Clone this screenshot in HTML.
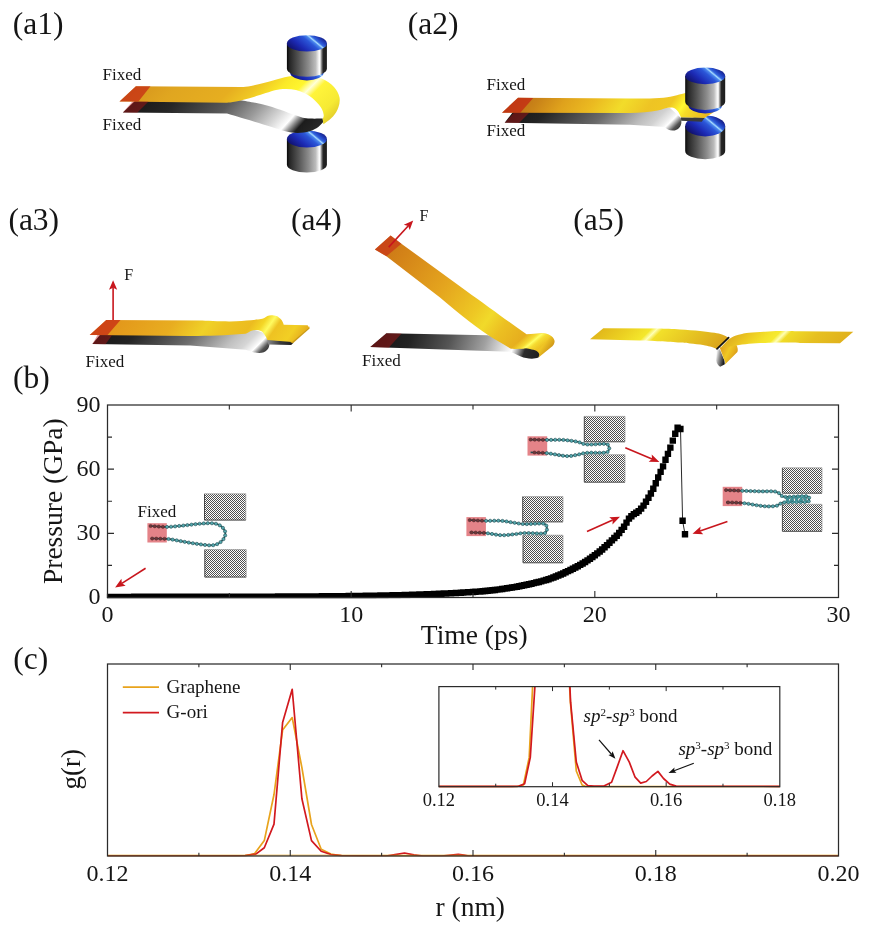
<!DOCTYPE html>
<html lang="en"><head><meta charset="utf-8"><title>Figure</title>
<style>
html,body{margin:0;padding:0;background:#ffffff;}
svg{display:block;}
text{font-family:"Liberation Serif","DejaVu Serif",serif;fill:#151515;}
</style></head><body>
<svg width="870" height="932" viewBox="0 0 870 932">
<defs>
<linearGradient id="cylBody" x1="0" y1="0" x2="1" y2="0"><stop offset="0" stop-color="#080808"/><stop offset="0.07" stop-color="#262626"/><stop offset="0.30" stop-color="#565656"/><stop offset="0.55" stop-color="#8e8e8e"/><stop offset="0.72" stop-color="#bcbcbc"/><stop offset="0.795" stop-color="#f2f2f2"/><stop offset="0.825" stop-color="#ffffff"/><stop offset="0.865" stop-color="#8a8a8a"/><stop offset="0.905" stop-color="#262626"/><stop offset="1" stop-color="#1c1c1c"/></linearGradient>
<linearGradient id="a1btb" gradientUnits="userSpaceOnUse" x1="286.9" y1="142" x2="306.11" y2="118.89"><stop offset="0.0000" stop-color="#10106a"/><stop offset="0.3107" stop-color="#1c2ab4"/><stop offset="0.5872" stop-color="#2b56d8"/><stop offset="0.6830" stop-color="#4a86ec"/><stop offset="0.7255" stop-color="#a8dcff"/><stop offset="0.7787" stop-color="#3468e0"/><stop offset="0.8637" stop-color="#2244c4"/><stop offset="1.0000" stop-color="#141c84"/></linearGradient>
<linearGradient id="a1gray" gradientUnits="userSpaceOnUse" x1="123" y1="107" x2="243.06" y2="215.05"><stop offset="0.0000" stop-color="#141414"/><stop offset="0.2163" stop-color="#262626"/><stop offset="0.4735" stop-color="#5a5a5a"/><stop offset="0.6282" stop-color="#9a9a9a"/><stop offset="0.7497" stop-color="#d8d8d8"/><stop offset="0.8214" stop-color="#ffffff"/><stop offset="0.8573" stop-color="#8a8a8a"/><stop offset="0.8932" stop-color="#1c1c1c"/><stop offset="1.0000" stop-color="#2a2a2a"/></linearGradient>
<linearGradient id="a1yel" gradientUnits="userSpaceOnUse" x1="120" y1="94" x2="239" y2="213"><stop offset="0.0000" stop-color="#d4921c"/><stop offset="0.2101" stop-color="#e0a620"/><stop offset="0.4454" stop-color="#e6ae20"/><stop offset="0.5504" stop-color="#efc724"/><stop offset="0.6513" stop-color="#fbea28"/><stop offset="0.7269" stop-color="#fff62e"/><stop offset="0.7731" stop-color="#ffffd8"/><stop offset="0.8109" stop-color="#fff43a"/><stop offset="0.9286" stop-color="#f6ea34"/><stop offset="1.0000" stop-color="#e2cc2a"/></linearGradient>
<linearGradient id="a1tbb" gradientUnits="userSpaceOnUse" x1="286.9" y1="75.6" x2="306.11" y2="52.49"><stop offset="0.0000" stop-color="#10106a"/><stop offset="0.3107" stop-color="#1c2ab4"/><stop offset="0.5872" stop-color="#2b56d8"/><stop offset="0.6830" stop-color="#4a86ec"/><stop offset="0.7255" stop-color="#a8dcff"/><stop offset="0.7787" stop-color="#3468e0"/><stop offset="0.8637" stop-color="#2244c4"/><stop offset="1.0000" stop-color="#141c84"/></linearGradient>
<linearGradient id="a1ttb" gradientUnits="userSpaceOnUse" x1="286.9" y1="46.4" x2="306.11" y2="23.29"><stop offset="0.0000" stop-color="#10106a"/><stop offset="0.3107" stop-color="#1c2ab4"/><stop offset="0.5872" stop-color="#2b56d8"/><stop offset="0.6830" stop-color="#4a86ec"/><stop offset="0.7255" stop-color="#a8dcff"/><stop offset="0.7787" stop-color="#3468e0"/><stop offset="0.8637" stop-color="#2244c4"/><stop offset="1.0000" stop-color="#141c84"/></linearGradient>
<linearGradient id="a2btb" gradientUnits="userSpaceOnUse" x1="685.2" y1="129" x2="704.41" y2="105.89"><stop offset="0.0000" stop-color="#10106a"/><stop offset="0.3107" stop-color="#1c2ab4"/><stop offset="0.5872" stop-color="#2b56d8"/><stop offset="0.6830" stop-color="#4a86ec"/><stop offset="0.7255" stop-color="#a8dcff"/><stop offset="0.7787" stop-color="#3468e0"/><stop offset="0.8637" stop-color="#2244c4"/><stop offset="1.0000" stop-color="#141c84"/></linearGradient>
<linearGradient id="a2gray" gradientUnits="userSpaceOnUse" x1="505" y1="118" x2="597.5" y2="210.5"><stop offset="0.0000" stop-color="#141414"/><stop offset="0.1892" stop-color="#242424"/><stop offset="0.5135" stop-color="#6a6a6a"/><stop offset="0.7405" stop-color="#bcbcbc"/><stop offset="0.8270" stop-color="#d2d2d2"/><stop offset="0.8865" stop-color="#ececec"/><stop offset="0.9162" stop-color="#ffffff"/><stop offset="0.9405" stop-color="#b0b0b0"/><stop offset="0.9676" stop-color="#555"/><stop offset="1.0000" stop-color="#333"/></linearGradient>
<linearGradient id="a2yel" gradientUnits="userSpaceOnUse" x1="503" y1="105" x2="646.56" y2="205.49"><stop offset="0.0000" stop-color="#b86a14"/><stop offset="0.1496" stop-color="#c98318"/><stop offset="0.2758" stop-color="#dfa21c"/><stop offset="0.4161" stop-color="#ebba21"/><stop offset="0.5563" stop-color="#f2dc2a"/><stop offset="0.6872" stop-color="#eec424"/><stop offset="0.7803" stop-color="#f0c822"/><stop offset="0.8429" stop-color="#fff830"/><stop offset="0.8775" stop-color="#f6dc28"/><stop offset="1.0000" stop-color="#e8b41e"/></linearGradient>
<linearGradient id="a2tbb" gradientUnits="userSpaceOnUse" x1="685.2" y1="108.6" x2="704.41" y2="85.49"><stop offset="0.0000" stop-color="#10106a"/><stop offset="0.3107" stop-color="#1c2ab4"/><stop offset="0.5872" stop-color="#2b56d8"/><stop offset="0.6830" stop-color="#4a86ec"/><stop offset="0.7255" stop-color="#a8dcff"/><stop offset="0.7787" stop-color="#3468e0"/><stop offset="0.8637" stop-color="#2244c4"/><stop offset="1.0000" stop-color="#141c84"/></linearGradient>
<linearGradient id="a2ttb" gradientUnits="userSpaceOnUse" x1="685.2" y1="78.9" x2="704.41" y2="55.79"><stop offset="0.0000" stop-color="#10106a"/><stop offset="0.3107" stop-color="#1c2ab4"/><stop offset="0.5872" stop-color="#2b56d8"/><stop offset="0.6830" stop-color="#4a86ec"/><stop offset="0.7255" stop-color="#a8dcff"/><stop offset="0.7787" stop-color="#3468e0"/><stop offset="0.8637" stop-color="#2244c4"/><stop offset="1.0000" stop-color="#141c84"/></linearGradient>
<linearGradient id="a3gray" gradientUnits="userSpaceOnUse" x1="92" y1="340" x2="185" y2="433"><stop offset="0.0000" stop-color="#141414"/><stop offset="0.2043" stop-color="#242424"/><stop offset="0.5323" stop-color="#6e6e6e"/><stop offset="0.7581" stop-color="#c0c0c0"/><stop offset="0.8495" stop-color="#d6d6d6"/><stop offset="0.8925" stop-color="#eeeeee"/><stop offset="0.9194" stop-color="#ffffff"/><stop offset="0.9409" stop-color="#b0b0b0"/><stop offset="0.9677" stop-color="#555"/><stop offset="1.0000" stop-color="#333"/></linearGradient>
<linearGradient id="a3edge" x1="0" y1="0" x2="1" y2="0"><stop offset="0" stop-color="#8a8a8a"/><stop offset="0.5" stop-color="#3a3a3a"/><stop offset="1" stop-color="#1c1c1c"/></linearGradient>
<linearGradient id="a3yel" gradientUnits="userSpaceOnUse" x1="90" y1="328" x2="235.91" y2="430.13"><stop offset="0.0000" stop-color="#e0901a"/><stop offset="0.1610" stop-color="#e49c1c"/><stop offset="0.3680" stop-color="#e8ad20"/><stop offset="0.5290" stop-color="#f0d228"/><stop offset="0.6072" stop-color="#eec424"/><stop offset="0.7295" stop-color="#ecbc20"/><stop offset="0.7810" stop-color="#f4d626"/><stop offset="0.8174" stop-color="#fffb60"/><stop offset="0.8537" stop-color="#eec222"/><stop offset="0.9420" stop-color="#f2cf24"/><stop offset="1.0000" stop-color="#e6b01e"/></linearGradient>
<linearGradient id="a4gray" gradientUnits="userSpaceOnUse" x1="372" y1="340" x2="527.81" y2="394.53"><stop offset="0.0000" stop-color="#121212"/><stop offset="0.2173" stop-color="#222"/><stop offset="0.4480" stop-color="#555"/><stop offset="0.6521" stop-color="#a0a0a0"/><stop offset="0.7630" stop-color="#e0e0e0"/><stop offset="0.8205" stop-color="#ffffff"/><stop offset="0.8588" stop-color="#9a9a9a"/><stop offset="0.8951" stop-color="#2c2c2c"/><stop offset="1.0000" stop-color="#1c1c1c"/></linearGradient>
<linearGradient id="a4yel" gradientUnits="userSpaceOnUse" x1="376" y1="243" x2="541.41" y2="362.1"><stop offset="0.0000" stop-color="#c87216"/><stop offset="0.1500" stop-color="#d48418"/><stop offset="0.3896" stop-color="#e4a41e"/><stop offset="0.5920" stop-color="#eec824"/><stop offset="0.6644" stop-color="#f1da2a"/><stop offset="0.7431" stop-color="#ecc022"/><stop offset="0.8514" stop-color="#e6ae1e"/><stop offset="0.9129" stop-color="#ecbe22"/><stop offset="0.9595" stop-color="#eec424"/><stop offset="1.0000" stop-color="#cf9618"/></linearGradient>
<linearGradient id="a4hl" gradientUnits="userSpaceOnUse" x1="531.4" y1="330.7" x2="542.97" y2="344.62"><stop offset="0.0000" stop-color="#fff83a" stop-opacity="0"/><stop offset="0.3451" stop-color="#fff640" stop-opacity="0.55"/><stop offset="0.5099" stop-color="#ffff66" stop-opacity="1"/><stop offset="0.6980" stop-color="#fff640" stop-opacity="0.5"/><stop offset="1.0000" stop-color="#fff83a" stop-opacity="0"/></linearGradient>
<linearGradient id="a5L" gradientUnits="userSpaceOnUse" x1="592" y1="334" x2="664.5" y2="406.5"><stop offset="0.0000" stop-color="#e0b41a"/><stop offset="0.2276" stop-color="#ecd222"/><stop offset="0.3724" stop-color="#f4e82c"/><stop offset="0.4138" stop-color="#ffffb4"/><stop offset="0.4552" stop-color="#f2e02a"/><stop offset="0.6966" stop-color="#e6c422"/><stop offset="0.8828" stop-color="#deae1e"/><stop offset="1.0000" stop-color="#d8a01c"/></linearGradient>
<linearGradient id="a5g" gradientUnits="userSpaceOnUse" x1="716" y1="356" x2="724.85" y2="357.77"><stop offset="0.0000" stop-color="#f4f4f4"/><stop offset="0.4239" stop-color="#8a8a8a"/><stop offset="1.0000" stop-color="#161616"/></linearGradient>
<linearGradient id="a5f" gradientUnits="userSpaceOnUse" x1="719" y1="352" x2="734.2" y2="359.6"><stop offset="0.0000" stop-color="#e0a01c"/><stop offset="0.4737" stop-color="#efc824"/><stop offset="0.7368" stop-color="#e8b41e"/><stop offset="1.0000" stop-color="#d89a1a"/></linearGradient>
<linearGradient id="a5R" gradientUnits="userSpaceOnUse" x1="722" y1="344" x2="782.5" y2="404.5"><stop offset="0.0000" stop-color="#deac1e"/><stop offset="0.1488" stop-color="#ecc822"/><stop offset="0.2975" stop-color="#f4e22a"/><stop offset="0.3802" stop-color="#f6ea30"/><stop offset="0.4256" stop-color="#ffffb4"/><stop offset="0.4711" stop-color="#f0dc28"/><stop offset="0.7107" stop-color="#e6c020"/><stop offset="1.0000" stop-color="#e0b01c"/></linearGradient>
<clipPath id="bclip"><rect x="106.9" y="405" width="732.2" height="193.2"/></clipPath>
<pattern id="chk" width="2" height="2" patternUnits="userSpaceOnUse"><rect width="2" height="2" fill="#ffffff"/><rect width="1" height="1" fill="#505050"/><rect x="1" y="1" width="1" height="1" fill="#505050"/></pattern>
<filter id="soft" x="-5%" y="-5%" width="110%" height="110%"><feGaussianBlur stdDeviation="0.42"/></filter>
<clipPath id="cclip"><rect x="107.5" y="664" width="731" height="192.3"/></clipPath>
</defs>
<path d="M286.9,139 L286.9,164.4 A20,8.2 0 0 0 326.9,164.4 L326.9,139 Z" fill="url(#cylBody)"/><ellipse cx="306.9" cy="139" rx="20" ry="8.6" fill="url(#a1btb)"/>
<path d="M139,97 L235,99.5 C235.95,99.62 236.02,99.37 240.7,100.2 C245.38,101.03 256.5,102.92 263.1,104.5 C269.7,106.08 275.13,107.98 280.3,109.7 C285.47,111.42 289.78,113.37 294.1,114.8 C298.42,116.23 301.45,117.67 306.2,118.3 C310.95,118.93 319.87,118.55 322.6,118.6 L323.4,121.7 C322.55,122.57 320.58,125.32 318.3,126.9 C316.02,128.48 313.15,130.2 309.7,131.2 C306.25,132.2 301.63,132.9 297.6,132.9 C293.57,132.9 289.82,132.2 285.5,131.2 C281.18,130.2 276.87,128.48 271.7,126.9 C266.53,125.32 260.25,123.42 254.5,121.7 C248.75,119.98 241.78,117.95 237.2,116.6 C232.62,115.25 228.7,114.1 227,113.6 L122.9,112.6 Z" fill="url(#a1gray)"/>
<path d="M135.9,86.2 L241,87 C242.67,87 245.67,87.13 251,86 C256.33,84.87 266.75,82 273,80.4 C279.25,78.8 283.17,77.3 288.5,76.4 C293.83,75.5 299.47,74.63 305,75 C310.53,75.37 316.87,76.6 321.7,78.6 C326.53,80.6 331.05,83.93 334,87 C336.95,90.07 338.65,93.67 339.4,97 C340.15,100.33 339.57,103.75 338.5,107 C337.43,110.25 335.52,113.62 333,116.5 C330.48,119.38 325,123 323.4,124.3 L322.6,119.1 C322.78,118.42 323.92,116.87 323.7,115 C323.48,113.13 322.85,110.42 321.3,107.9 C319.75,105.38 317.08,102.28 314.4,99.9 C311.72,97.52 308.27,95.23 305.2,93.6 C302.13,91.97 299.2,90.88 296,90.1 C292.8,89.32 289.33,88.9 286,88.9 C282.67,88.9 281.25,88.8 276,90.1 C270.75,91.4 261.17,94.78 254.5,96.7 C247.83,98.62 240.58,100.58 236,101.6 C231.42,102.62 228.5,102.6 227,102.8 L119.5,101.4 Z" fill="url(#a1yel)"/>
<polygon points="135.9,86.2 150.5,86.3 138.4,101.4 119.5,101.4" fill="#c41c14" fill-opacity="0.66"/>
<polygon points="132.4,101.4 148.5,101.4 137.2,112.7 122.9,112.6" fill="#c01818" fill-opacity="0.42"/>
<ellipse cx="306.9" cy="72.2" rx="16.8" ry="8.2" fill="url(#a1tbb)"/><path d="M286.9,43.4 L286.9,68.6 A20,8.2 0 0 0 326.9,68.6 L326.9,43.4 Z" fill="url(#cylBody)"/><ellipse cx="306.9" cy="43.4" rx="20" ry="8.2" fill="url(#a1ttb)"/>
<text x="102.5" y="80" font-size="17" text-anchor="start">Fixed</text>
<text x="102.5" y="130.2" font-size="17" text-anchor="start">Fixed</text>
<text x="12.8" y="33.8" font-size="31.5" text-anchor="start">(a1)</text>
<path d="M685.2,126 L685.2,151 A20,8.3 0 0 0 725.2,151 L725.2,126 Z" fill="url(#cylBody)"/><ellipse cx="705.2" cy="126" rx="20" ry="10.4" fill="url(#a2btb)"/>
<path d="M516,108 L670,108 L681,118 L681.4,122 C681.4,126 678.5,130.6 672.8,130.6 C669,130.6 666.5,128.6 664.5,126.9 L630,124.8 L504.7,122.7 Z" fill="url(#a2gray)"/>
<path d="M518,97.8 L630,98.6 C633.33,98.57 643.8,98.63 650,98.4 C656.2,98.17 662.72,97.73 667.2,97.2 C671.68,96.67 673.9,95.88 676.9,95.2 C679.9,94.52 683.82,93.45 685.2,93.1 L700,99 L722,104 L715.5,111 L704.5,118 L681,117.4 C679.5,114 678.5,111.5 676.9,110.2 C675,108 673.5,107.3 671.4,107.5 C669,107.6 667,108 664.5,108.6 C662,109.5 660,110.1 657.6,110.5 C650,111.8 640,112.9 630,113.1 L502,112.7 Z" fill="url(#a2yel)"/>
<polygon points="681,117.4 704.5,118 701.7,121.8 681.2,120.8" fill="#3a3a3a"/>
<polygon points="518,97.8 533.2,97.9 520.3,112.8 502,112.7" fill="#c41c14" fill-opacity="0.66"/>
<polygon points="513.9,112.8 529,112.9 519,122.9 504.7,122.7" fill="#c01818" fill-opacity="0.42"/>
<ellipse cx="705.2" cy="105.2" rx="16.8" ry="8.3" fill="url(#a2tbb)"/><path d="M685.2,75.9 L685.2,101.6 A20,8.3 0 0 0 725.2,101.6 L725.2,75.9 Z" fill="url(#cylBody)"/><ellipse cx="705.2" cy="75.9" rx="20" ry="8.3" fill="url(#a2ttb)"/>
<text x="486.5" y="90.1" font-size="17" text-anchor="start">Fixed</text>
<text x="486.5" y="136.3" font-size="17" text-anchor="start">Fixed</text>
<text x="407.8" y="33.8" font-size="31.5" text-anchor="start">(a2)</text>
<path d="M104,330 L255,330 L264,333 L269,341.4 C270.5,346 268,353 259.3,353 C254,353 250,351 245.5,349.7 L190.3,345.6 L92.4,344.1 Z" fill="url(#a3gray)"/>
<polygon points="267.2,339.5 291.5,341.2 293.5,342.8 291.2,345 268.3,344.4" fill="url(#a3edge)"/>
<polygon points="292.1,340 309.3,326.5 309.6,328.6 293,343.2 290.5,342.6" fill="#c99a18"/>
<path d="M106.2,319.9 L200,320.6 C205,320.75 221.55,321.57 230,321.5 C238.45,321.43 245.53,320.6 250.7,320.2 C255.87,319.8 258.73,319.47 261,319.1 C263.27,318.73 263.23,318.52 264.3,318 C265.37,317.48 266.22,316.47 267.4,316 C268.58,315.53 269.87,315.2 271.4,315.2 C272.93,315.2 275.05,315.35 276.6,316 C278.15,316.65 279.67,318.07 280.7,319.1 C281.73,320.13 282.28,321.25 282.8,322.2 C283.32,323.15 283.63,324.37 283.8,324.8 L307.6,325.3 L309.1,327.6 L292.1,342.0 L267.4,339.9 C266.4,337.6 265.4,336 264.1,334.1 C263,332.4 262.2,331.4 261,331 C259.2,330.1 257.6,329.9 255.9,330 C254,330.1 252.4,330.4 250.7,331 C249,332 247.5,333.2 245.5,333.7 C225,335.4 210,335.9 190.3,335.9 L89.7,335 Z" fill="url(#a3yel)"/>
<polygon points="106.2,319.9 120.5,320 107.5,335.1 89.7,335" fill="#c41c14" fill-opacity="0.66"/>
<polygon points="97.5,335.1 112,335.2 105.5,344.3 92.4,344.1" fill="#c01818" fill-opacity="0.42"/>
<line x1="113.1" y1="320" x2="113.1" y2="287.8" stroke="#c8161d" stroke-width="1.6"/><polygon points="113.1,280.3 117.2,289.8 113.1,287.8 109,289.8" fill="#c8161d"/>
<text x="124.2" y="280.2" font-size="16" text-anchor="start">F</text>
<text x="85.5" y="366.6" font-size="17" text-anchor="start">Fixed</text>
<text x="8.4" y="229.9" font-size="31.5" text-anchor="start">(a3)</text>
<path d="M386.4,333.3 L487.6,335.2 L515,341 L531,346 L542,351 L538.4,357.6 C534,359.6 526,358.8 520.9,356.6 C516,354.2 512.5,352.4 509.4,351.7 L370.3,347.1 Z" fill="url(#a4gray)"/>
<path d="M390.6,235.6 L401.4,243.7 L465,289.9 C490,308 508,321 526.6,334.3 C532,334 538,333.2 542.1,333.2 C546,333.3 549,334.2 551.6,336.2 C556.2,340 555.2,344.4 550.8,347.6 L538.2,357.8 C541,353.5 538,350.8 532,349.6 C528.5,348.6 526.5,348.2 524,348.4 C519,348.8 515,349 511,348.8 C503,344 495,339.5 488.7,335.6 C470,323 455,310 440,297.5 L386.4,256.3 L374.9,249.4 Z" fill="url(#a4yel)"/>
<path d="M390.6,235.6 L401.4,243.7 L465,289.9 C490,308 508,321 526.6,334.3 C532,334 538,333.2 542.1,333.2 C546,333.3 549,334.2 551.6,336.2 C556.2,340 555.2,344.4 550.8,347.6 L538.2,357.8 C541,353.5 538,350.8 532,349.6 C528.5,348.6 526.5,348.2 524,348.4 C519,348.8 515,349 511,348.8 C503,344 495,339.5 488.7,335.6 C470,323 455,310 440,297.5 L386.4,256.3 L374.9,249.4 Z" fill="url(#a4hl)"/>
<polygon points="390.6,235.6 401.4,243.7 386.4,256.3 374.9,249.4" fill="#c82a18" fill-opacity="0.62"/>
<polygon points="386.4,333.3 401.6,333.6 388.7,347.7 370.3,347.1" fill="#c01818" fill-opacity="0.42"/>
<line x1="388.7" y1="247.1" x2="408.13" y2="225.93" stroke="#c8161d" stroke-width="1.6"/><polygon points="413.2,220.4 409.72,230.1 408.13,225.93 403.83,224.7" fill="#c8161d"/>
<text x="419.6" y="221" font-size="16" text-anchor="start">F</text>
<text x="362" y="366.3" font-size="17" text-anchor="start">Fixed</text>
<text x="291" y="229.9" font-size="31.5" text-anchor="start">(a4)</text>
<path d="M603.3,328.3 L660,328.6 C663.33,328.73 673.33,329.02 680,329.4 C686.67,329.78 694.25,330.33 700,330.9 C705.75,331.47 710.83,332.18 714.5,332.8 C718.17,333.42 719.7,333.8 722,334.6 C724.3,335.4 727.25,337.1 728.3,337.6 L716.8,348.9 C715.67,348.52 712.3,347.27 710,346.6 C707.7,345.93 706.33,345.43 703,344.9 C699.67,344.37 693.83,343.78 690,343.4 C686.17,343.02 685,342.95 680,342.6 C675,342.25 666.67,341.65 660,341.3 C653.33,340.95 643.33,340.63 640,340.5 L590,339.3 Z" fill="url(#a5L)"/>
<path d="M716.8,348.9 L716.2,360.5 C716.6,363.5 718.2,365.6 720.2,366.8 L724.8,364.2 L724.4,360.5 L719.9,349.4 Z" fill="url(#a5g)"/>
<path d="M719.7,347.4 L736.3,344.4 C737.8,347.5 738.2,350 737.4,352 L724.9,364.4 C725.6,362.5 725.2,361.2 724.3,360 Z" fill="url(#a5f)"/>
<path d="M728.9,339.1 C729.95,338.53 733.02,336.57 735.2,335.7 C737.38,334.83 739.7,334.38 742,333.9 C744.3,333.42 745.17,333.17 749,332.8 C752.83,332.43 759.83,331.98 765,331.7 C770.17,331.42 774.17,331.17 780,331.1 C785.83,331.03 796.67,331.27 800,331.3 L853.3,331.7 L840,343.3 L800,343 C796.67,342.93 785.83,342.6 780,342.6 C774.17,342.6 770.17,342.82 765,343 C759.83,343.18 753.78,343.28 749,343.7 C744.22,344.12 739.8,344.98 736.3,345.5 C732.8,346.02 730.68,346.4 728,346.8 C725.32,347.2 721.5,347.72 720.2,347.9 Z" fill="url(#a5R)"/>
<path d="M728.6,337.6 L717,348.8" stroke="#111" stroke-width="1.7" stroke-linecap="round"/>
<text x="573.3" y="229.9" font-size="31.5" text-anchor="start">(a5)</text>
<path d="M680.5,429 L682.6,520.8 L685,534.2" fill="none" stroke="#111" stroke-width="0.9"/>
<path d="M104.3,593.64h6.4v6.4h-6.4zM106.74,593.63h6.4v6.4h-6.4zM109.17,593.63h6.4v6.4h-6.4zM111.61,593.63h6.4v6.4h-6.4zM114.05,593.63h6.4v6.4h-6.4zM116.48,593.63h6.4v6.4h-6.4zM118.92,593.63h6.4v6.4h-6.4zM121.36,593.63h6.4v6.4h-6.4zM123.79,593.63h6.4v6.4h-6.4zM126.23,593.63h6.4v6.4h-6.4zM128.67,593.63h6.4v6.4h-6.4zM131.1,593.62h6.4v6.4h-6.4zM133.54,593.62h6.4v6.4h-6.4zM135.98,593.62h6.4v6.4h-6.4zM138.41,593.62h6.4v6.4h-6.4zM140.85,593.62h6.4v6.4h-6.4zM143.29,593.62h6.4v6.4h-6.4zM145.72,593.62h6.4v6.4h-6.4zM148.16,593.61h6.4v6.4h-6.4zM150.6,593.61h6.4v6.4h-6.4zM153.03,593.61h6.4v6.4h-6.4zM155.47,593.61h6.4v6.4h-6.4zM157.91,593.61h6.4v6.4h-6.4zM160.34,593.61h6.4v6.4h-6.4zM162.78,593.6h6.4v6.4h-6.4zM165.22,593.6h6.4v6.4h-6.4zM167.65,593.6h6.4v6.4h-6.4zM170.09,593.6h6.4v6.4h-6.4zM172.53,593.6h6.4v6.4h-6.4zM174.96,593.59h6.4v6.4h-6.4zM177.4,593.59h6.4v6.4h-6.4zM179.84,593.59h6.4v6.4h-6.4zM182.27,593.59h6.4v6.4h-6.4zM184.71,593.58h6.4v6.4h-6.4zM187.15,593.58h6.4v6.4h-6.4zM189.58,593.58h6.4v6.4h-6.4zM192.02,593.57h6.4v6.4h-6.4zM194.46,593.57h6.4v6.4h-6.4zM196.89,593.57h6.4v6.4h-6.4zM199.33,593.57h6.4v6.4h-6.4zM201.77,593.56h6.4v6.4h-6.4zM204.2,593.56h6.4v6.4h-6.4zM206.64,593.55h6.4v6.4h-6.4zM209.08,593.55h6.4v6.4h-6.4zM211.51,593.55h6.4v6.4h-6.4zM213.95,593.54h6.4v6.4h-6.4zM216.39,593.54h6.4v6.4h-6.4zM218.82,593.53h6.4v6.4h-6.4zM221.26,593.53h6.4v6.4h-6.4zM223.7,593.52h6.4v6.4h-6.4zM226.13,593.52h6.4v6.4h-6.4zM228.57,593.51h6.4v6.4h-6.4zM231.01,593.51h6.4v6.4h-6.4zM233.44,593.5h6.4v6.4h-6.4zM235.88,593.5h6.4v6.4h-6.4zM238.32,593.49h6.4v6.4h-6.4zM240.75,593.49h6.4v6.4h-6.4zM243.19,593.48h6.4v6.4h-6.4zM245.63,593.47h6.4v6.4h-6.4zM248.06,593.47h6.4v6.4h-6.4zM250.5,593.46h6.4v6.4h-6.4zM252.94,593.45h6.4v6.4h-6.4zM255.37,593.45h6.4v6.4h-6.4zM257.81,593.44h6.4v6.4h-6.4zM260.25,593.43h6.4v6.4h-6.4zM262.68,593.42h6.4v6.4h-6.4zM265.12,593.41h6.4v6.4h-6.4zM267.56,593.4h6.4v6.4h-6.4zM269.99,593.39h6.4v6.4h-6.4zM272.43,593.38h6.4v6.4h-6.4zM274.87,593.37h6.4v6.4h-6.4zM277.3,593.36h6.4v6.4h-6.4zM279.74,593.35h6.4v6.4h-6.4zM282.18,593.34h6.4v6.4h-6.4zM284.61,593.33h6.4v6.4h-6.4zM287.05,593.32h6.4v6.4h-6.4zM289.49,593.31h6.4v6.4h-6.4zM291.92,593.29h6.4v6.4h-6.4zM294.36,593.28h6.4v6.4h-6.4zM296.8,593.27h6.4v6.4h-6.4zM299.23,593.25h6.4v6.4h-6.4zM301.67,593.24h6.4v6.4h-6.4zM304.11,593.22h6.4v6.4h-6.4zM306.54,593.2h6.4v6.4h-6.4zM308.98,593.19h6.4v6.4h-6.4zM311.42,593.17h6.4v6.4h-6.4zM313.85,593.15h6.4v6.4h-6.4zM316.29,593.13h6.4v6.4h-6.4zM318.73,593.12h6.4v6.4h-6.4zM321.16,593.1h6.4v6.4h-6.4zM323.6,593.07h6.4v6.4h-6.4zM326.04,593.05h6.4v6.4h-6.4zM328.47,593.03h6.4v6.4h-6.4zM330.91,593.01h6.4v6.4h-6.4zM333.35,592.98h6.4v6.4h-6.4zM335.78,592.96h6.4v6.4h-6.4zM338.22,592.93h6.4v6.4h-6.4zM340.66,592.91h6.4v6.4h-6.4zM343.09,592.88h6.4v6.4h-6.4zM345.53,592.85h6.4v6.4h-6.4zM347.97,592.82h6.4v6.4h-6.4zM350.4,592.79h6.4v6.4h-6.4zM352.84,592.76h6.4v6.4h-6.4zM355.28,592.73h6.4v6.4h-6.4zM357.71,592.69h6.4v6.4h-6.4zM360.15,592.66h6.4v6.4h-6.4zM362.59,592.62h6.4v6.4h-6.4zM365.02,592.58h6.4v6.4h-6.4zM367.46,592.54h6.4v6.4h-6.4zM369.9,592.5h6.4v6.4h-6.4zM372.33,592.46h6.4v6.4h-6.4zM374.77,592.42h6.4v6.4h-6.4zM377.21,592.37h6.4v6.4h-6.4zM379.64,592.32h6.4v6.4h-6.4zM382.08,592.27h6.4v6.4h-6.4zM384.52,592.22h6.4v6.4h-6.4zM386.95,592.17h6.4v6.4h-6.4zM389.39,592.12h6.4v6.4h-6.4zM391.83,592.06h6.4v6.4h-6.4zM394.26,592h6.4v6.4h-6.4zM396.7,591.94h6.4v6.4h-6.4zM399.14,591.88h6.4v6.4h-6.4zM401.57,591.81h6.4v6.4h-6.4zM404.01,591.74h6.4v6.4h-6.4zM406.45,591.67h6.4v6.4h-6.4zM408.88,591.6h6.4v6.4h-6.4zM411.32,591.53h6.4v6.4h-6.4zM413.76,591.45h6.4v6.4h-6.4zM416.19,591.37h6.4v6.4h-6.4zM418.63,591.28h6.4v6.4h-6.4zM421.07,591.2h6.4v6.4h-6.4zM423.5,591.1h6.4v6.4h-6.4zM425.94,591.01h6.4v6.4h-6.4zM428.38,590.91h6.4v6.4h-6.4zM430.81,590.81h6.4v6.4h-6.4zM433.25,590.71h6.4v6.4h-6.4zM435.69,590.6h6.4v6.4h-6.4zM438.12,590.49h6.4v6.4h-6.4zM440.56,590.37h6.4v6.4h-6.4zM443,590.26h6.4v6.4h-6.4zM445.43,590.15h6.4v6.4h-6.4zM447.87,590.03h6.4v6.4h-6.4zM450.31,589.9h6.4v6.4h-6.4zM452.74,589.77h6.4v6.4h-6.4zM455.18,589.64h6.4v6.4h-6.4zM457.62,589.51h6.4v6.4h-6.4zM460.05,589.36h6.4v6.4h-6.4zM462.49,589.22h6.4v6.4h-6.4zM464.93,589.07h6.4v6.4h-6.4zM467.36,588.91h6.4v6.4h-6.4zM469.8,588.75h6.4v6.4h-6.4zM472.24,588.58h6.4v6.4h-6.4zM474.67,588.41h6.4v6.4h-6.4zM477.11,588.23h6.4v6.4h-6.4zM479.55,588.04h6.4v6.4h-6.4zM481.98,587.84h6.4v6.4h-6.4zM484.42,587.58h6.4v6.4h-6.4zM486.86,587.32h6.4v6.4h-6.4zM489.29,587.04h6.4v6.4h-6.4zM491.73,586.75h6.4v6.4h-6.4zM494.17,586.44h6.4v6.4h-6.4zM496.6,586.13h6.4v6.4h-6.4zM499.04,585.79h6.4v6.4h-6.4zM501.48,585.45h6.4v6.4h-6.4zM503.91,585.09h6.4v6.4h-6.4zM506.35,584.71h6.4v6.4h-6.4zM508.79,584.32h6.4v6.4h-6.4zM511.22,583.91h6.4v6.4h-6.4zM513.66,583.48h6.4v6.4h-6.4zM516.1,583.03h6.4v6.4h-6.4zM518.53,582.57h6.4v6.4h-6.4zM520.97,582.08h6.4v6.4h-6.4zM523.41,581.57h6.4v6.4h-6.4zM525.84,581.06h6.4v6.4h-6.4zM528.28,580.52h6.4v6.4h-6.4zM530.72,579.96h6.4v6.4h-6.4zM533.15,579.37h6.4v6.4h-6.4zM535.59,578.76h6.4v6.4h-6.4zM538.03,578.13h6.4v6.4h-6.4zM540.46,577.47h6.4v6.4h-6.4zM542.9,576.77h6.4v6.4h-6.4zM545.34,575.99h6.4v6.4h-6.4zM547.77,575.14h6.4v6.4h-6.4zM550.21,574.25h6.4v6.4h-6.4zM552.65,573.32h6.4v6.4h-6.4zM555.08,572.34h6.4v6.4h-6.4zM557.52,571.32h6.4v6.4h-6.4zM559.96,570.24h6.4v6.4h-6.4zM562.39,569.12h6.4v6.4h-6.4zM564.83,567.97h6.4v6.4h-6.4zM567.27,566.82h6.4v6.4h-6.4zM569.7,565.62h6.4v6.4h-6.4zM572.14,564.37h6.4v6.4h-6.4zM574.58,563.06h6.4v6.4h-6.4zM577.01,561.69h6.4v6.4h-6.4zM579.45,560.26h6.4v6.4h-6.4zM581.89,558.77h6.4v6.4h-6.4zM584.32,557.21h6.4v6.4h-6.4zM586.76,555.58h6.4v6.4h-6.4zM589.2,553.87h6.4v6.4h-6.4zM591.63,552.09h6.4v6.4h-6.4zM594.07,550.22h6.4v6.4h-6.4zM596.51,548.28h6.4v6.4h-6.4zM598.94,546.24h6.4v6.4h-6.4zM601.38,544.11h6.4v6.4h-6.4zM603.82,541.89h6.4v6.4h-6.4zM606.25,539.57h6.4v6.4h-6.4zM608.69,537.21h6.4v6.4h-6.4zM611.13,534.86h6.4v6.4h-6.4zM613.56,532.5h6.4v6.4h-6.4zM616,529.75h6.4v6.4h-6.4zM618.44,526.67h6.4v6.4h-6.4zM620.87,523.59h6.4v6.4h-6.4zM623.31,519.45h6.4v6.4h-6.4zM625.75,515.45h6.4v6.4h-6.4zM628.18,513.02h6.4v6.4h-6.4zM630.62,510.95h6.4v6.4h-6.4zM633.06,509.51h6.4v6.4h-6.4zM635.49,507.91h6.4v6.4h-6.4zM637.93,505.47h6.4v6.4h-6.4zM640.37,502.45h6.4v6.4h-6.4zM642.8,498.54h6.4v6.4h-6.4zM645.24,494.56h6.4v6.4h-6.4zM647.68,490.31h6.4v6.4h-6.4zM650.11,485.49h6.4v6.4h-6.4zM652.55,479.99h6.4v6.4h-6.4zM654.99,474.35h6.4v6.4h-6.4zM657.42,468.7h6.4v6.4h-6.4zM659.86,463.14h6.4v6.4h-6.4zM662.3,456.59h6.4v6.4h-6.4zM664.73,450.64h6.4v6.4h-6.4zM667.17,444.4h6.4v6.4h-6.4zM669.61,437.46h6.4v6.4h-6.4zM672.04,430.55h6.4v6.4h-6.4zM674.4,424.4h6.4v6.4h-6.4zM677.2,425.8h6.4v6.4h-6.4zM679.4,517.6h6.4v6.4h-6.4zM681.8,531h6.4v6.4h-6.4z" fill="#000" clip-path="url(#bclip)"/>
<rect x="107.5" y="405" width="731" height="192.5" fill="none" stroke="#2b2b2b" stroke-width="1.25"/>
<path d="M229.33,597.5v-4.5 M229.33,405v4.5 M351.17,597.5v-6.5 M351.17,405v6.5 M473,597.5v-4.5 M473,405v4.5 M594.83,597.5v-6.5 M594.83,405v6.5 M716.67,597.5v-4.5 M716.67,405v4.5 M107.5,565.42h4.5 M838.5,565.42h-4.5 M107.5,533.33h6.5 M838.5,533.33h-6.5 M107.5,501.25h4.5 M838.5,501.25h-4.5 M107.5,469.17h6.5 M838.5,469.17h-6.5 M107.5,437.08h4.5 M838.5,437.08h-4.5 " stroke="#2b2b2b" stroke-width="1.1" fill="none"/>
<text x="107.5" y="621.6" font-size="24" text-anchor="middle">0</text>
<text x="351.17" y="621.6" font-size="24" text-anchor="middle">10</text>
<text x="594.83" y="621.6" font-size="24" text-anchor="middle">20</text>
<text x="838.5" y="621.6" font-size="24" text-anchor="middle">30</text>
<text x="100.6" y="604.4" font-size="24" text-anchor="end">0</text>
<text x="100.6" y="540.23" font-size="24" text-anchor="end">30</text>
<text x="100.6" y="476.07" font-size="24" text-anchor="end">60</text>
<text x="100.6" y="411.9" font-size="24" text-anchor="end">90</text>
<text x="474.2" y="643.8" font-size="27.5" text-anchor="middle">Time (ps)</text>
<text transform="translate(61.8,501.2) rotate(-90)" font-size="27.5" text-anchor="middle">Pressure (GPa)</text>
<text x="12.9" y="388.3" font-size="31.5" text-anchor="start">(b)</text>
<rect x="204.5" y="493.8" width="41.3" height="26.3" fill="url(#chk)" filter="url(#soft)"/><path d="M204.5,493.8 V520.1 H245.8" fill="none" stroke="#4a4a4a" stroke-width="1"/><path d="M204.5,493.8 H245.8 V520.1" fill="none" stroke="#9a9a9a" stroke-width="0.7"/><rect x="204.8" y="549.5" width="41.4" height="27.6" fill="url(#chk)" filter="url(#soft)"/><path d="M204.8,549.5 V577.1 H246.2" fill="none" stroke="#4a4a4a" stroke-width="1"/><path d="M204.8,549.5 H246.2 V577.1" fill="none" stroke="#9a9a9a" stroke-width="0.7"/><rect x="147.4" y="523.2" width="19.4" height="19.3" fill="#e48388"/><path d="M150.6,526 C153.33,526.15 161.63,526.97 167,526.9 C172.37,526.83 177.42,526.12 182.8,525.6 C188.18,525.08 194.72,524.2 199.3,523.8 C203.88,523.4 207.23,523.12 210.3,523.2 C213.37,523.28 215.55,523.47 217.7,524.3 C219.85,525.13 221.92,526.7 223.2,528.2 C224.48,529.7 225.33,531.52 225.4,533.3 C225.47,535.08 224.73,537.22 223.6,538.9 C222.47,540.58 220.5,542.33 218.6,543.4 C216.7,544.47 214.8,545.08 212.2,545.3 C209.6,545.52 206.98,545.17 203,544.7 C199.02,544.23 193.2,543.32 188.3,542.5 C183.4,541.68 177.13,540.4 173.6,539.8 C170.07,539.2 170.93,539.12 167.1,538.9 C163.27,538.68 153.35,538.57 150.6,538.5" fill="none" stroke="#234d52" stroke-width="1.6"/><g fill="#55aab0" stroke="#234d52" stroke-width="0.6"><circle cx="166.97" cy="526.9" r="1.6"/><circle cx="171.07" cy="526.73" r="1.6"/><circle cx="175.15" cy="526.39" r="1.6"/><circle cx="179.23" cy="525.97" r="1.6"/><circle cx="183.31" cy="525.55" r="1.6"/><circle cx="187.39" cy="525.11" r="1.6"/><circle cx="191.46" cy="524.64" r="1.6"/><circle cx="195.53" cy="524.18" r="1.6"/><circle cx="199.61" cy="523.77" r="1.6"/><circle cx="203.7" cy="523.43" r="1.6"/><circle cx="207.79" cy="523.21" r="1.6"/><circle cx="211.89" cy="523.26" r="1.6"/><circle cx="215.95" cy="523.76" r="1.6"/><circle cx="219.73" cy="525.31" r="1.6"/><circle cx="222.91" cy="527.88" r="1.6"/><circle cx="225.03" cy="531.35" r="1.6"/><circle cx="225.16" cy="535.39" r="1.6"/><circle cx="223.46" cy="539.1" r="1.6"/><circle cx="220.61" cy="542.03" r="1.6"/><circle cx="217.11" cy="544.14" r="1.6"/><circle cx="213.16" cy="545.2" r="1.6"/><circle cx="209.07" cy="545.32" r="1.6"/><circle cx="204.99" cy="544.93" r="1.6"/><circle cx="200.92" cy="544.44" r="1.6"/><circle cx="196.86" cy="543.86" r="1.6"/><circle cx="192.81" cy="543.23" r="1.6"/><circle cx="188.76" cy="542.58" r="1.6"/><circle cx="184.72" cy="541.87" r="1.6"/><circle cx="180.69" cy="541.12" r="1.6"/><circle cx="176.67" cy="540.35" r="1.6"/><circle cx="172.63" cy="539.63" r="1.6"/><circle cx="168.58" cy="539" r="1.6"/></g><g fill="#70373a" stroke="#4a2426" stroke-width="0.5"><circle cx="150.6" cy="526" r="1.6"/><circle cx="154.69" cy="526.3" r="1.6"/><circle cx="158.78" cy="526.59" r="1.6"/><circle cx="162.87" cy="526.82" r="1.6"/><circle cx="164.49" cy="538.79" r="1.6"/><circle cx="160.39" cy="538.68" r="1.6"/><circle cx="156.29" cy="538.6" r="1.6"/><circle cx="152.19" cy="538.53" r="1.6"/></g>
<text x="137.6" y="516.8" font-size="17" text-anchor="start">Fixed</text>
<line x1="145.6" y1="568.3" x2="121.86" y2="583.32" stroke="#c8161d" stroke-width="1.6"/><polygon points="115.1,587.6 121.41,578.87 121.86,583.32 125.69,585.63" fill="#c8161d"/>
<rect x="522.7" y="496.6" width="40.3" height="25.3" fill="url(#chk)" filter="url(#soft)"/><path d="M522.7,496.6 V521.9 H563" fill="none" stroke="#4a4a4a" stroke-width="1"/><path d="M522.7,496.6 H563 V521.9" fill="none" stroke="#9a9a9a" stroke-width="0.7"/><rect x="523" y="535.2" width="40" height="27.6" fill="url(#chk)" filter="url(#soft)"/><path d="M523,535.2 V562.8 H563" fill="none" stroke="#4a4a4a" stroke-width="1"/><path d="M523,535.2 H563 V562.8" fill="none" stroke="#9a9a9a" stroke-width="0.7"/><rect x="466.4" y="517.1" width="19.5" height="19" fill="#e48388"/><path d="M469.7,520.1 C472.3,520.22 480.08,520.68 485.3,520.8 C490.52,520.92 496.23,520.48 501,520.8 C505.77,521.12 509.92,522.15 513.9,522.7 C517.88,523.25 520,523.95 524.9,524.1 C529.8,524.25 539.68,523.17 543.3,523.6 C546.92,524.03 546.05,525.53 546.6,526.7 C547.15,527.87 547.15,529.48 546.6,530.6 C546.05,531.72 546.92,533 543.3,533.4 C539.68,533.8 529.8,532.85 524.9,533 C520,533.15 517.88,533.93 513.9,534.3 C509.92,534.67 505.77,535.42 501,535.2 C496.23,534.98 490.52,533.47 485.3,533 C480.08,532.53 472.3,532.5 469.7,532.4" fill="none" stroke="#234d52" stroke-width="1.6"/><g fill="#55aab0" stroke="#234d52" stroke-width="0.6"><circle cx="486.08" cy="520.81" r="1.6"/><circle cx="490.18" cy="520.79" r="1.6"/><circle cx="494.28" cy="520.71" r="1.6"/><circle cx="498.38" cy="520.7" r="1.6"/><circle cx="502.47" cy="520.93" r="1.6"/><circle cx="506.54" cy="521.46" r="1.6"/><circle cx="510.58" cy="522.16" r="1.6"/><circle cx="514.63" cy="522.81" r="1.6"/><circle cx="518.67" cy="523.49" r="1.6"/><circle cx="522.74" cy="523.98" r="1.6"/><circle cx="526.84" cy="524.1" r="1.6"/><circle cx="530.93" cy="523.94" r="1.6"/><circle cx="535.03" cy="523.72" r="1.6"/><circle cx="539.12" cy="523.53" r="1.6"/><circle cx="543.22" cy="523.6" r="1.6"/><circle cx="546.34" cy="525.67" r="1.6"/><circle cx="546.91" cy="529.67" r="1.6"/><circle cx="545" cy="533.04" r="1.6"/><circle cx="540.95" cy="533.49" r="1.6"/><circle cx="536.85" cy="533.39" r="1.6"/><circle cx="532.75" cy="533.21" r="1.6"/><circle cx="528.66" cy="533.04" r="1.6"/><circle cx="524.56" cy="533.02" r="1.6"/><circle cx="520.47" cy="533.36" r="1.6"/><circle cx="516.42" cy="533.99" r="1.6"/><circle cx="512.35" cy="534.46" r="1.6"/><circle cx="508.27" cy="534.91" r="1.6"/><circle cx="504.19" cy="535.21" r="1.6"/><circle cx="500.09" cy="535.13" r="1.6"/><circle cx="496.02" cy="534.64" r="1.6"/><circle cx="491.98" cy="533.96" r="1.6"/><circle cx="487.93" cy="533.31" r="1.6"/></g><g fill="#70373a" stroke="#4a2426" stroke-width="0.5"><circle cx="469.7" cy="520.1" r="1.6"/><circle cx="473.79" cy="520.31" r="1.6"/><circle cx="477.89" cy="520.52" r="1.6"/><circle cx="481.99" cy="520.69" r="1.6"/><circle cx="483.85" cy="532.89" r="1.6"/><circle cx="479.76" cy="532.67" r="1.6"/><circle cx="475.66" cy="532.54" r="1.6"/><circle cx="471.56" cy="532.45" r="1.6"/></g>
<line x1="587" y1="531.5" x2="612.69" y2="520.06" stroke="#c8161d" stroke-width="1.6"/><polygon points="620,516.8 612.49,524.52 612.69,520.06 609.24,517.22" fill="#c8161d"/>
<rect x="584.3" y="416.4" width="40.7" height="25.4" fill="url(#chk)" filter="url(#soft)"/><path d="M584.3,416.4 V441.8 H625" fill="none" stroke="#4a4a4a" stroke-width="1"/><path d="M584.3,416.4 H625 V441.8" fill="none" stroke="#9a9a9a" stroke-width="0.7"/><rect x="584.3" y="454.7" width="40.7" height="27.5" fill="url(#chk)" filter="url(#soft)"/><path d="M584.3,454.7 V482.2 H625" fill="none" stroke="#4a4a4a" stroke-width="1"/><path d="M584.3,454.7 H625 V482.2" fill="none" stroke="#9a9a9a" stroke-width="0.7"/><rect x="527.5" y="436.3" width="19.7" height="19.3" fill="#e48388"/><path d="M530.6,439.6 C533.37,439.65 541.83,439.85 547.2,439.9 C552.57,439.95 557.75,439.58 562.8,439.9 C567.85,440.22 573.52,441.03 577.5,441.8 C581.48,442.57 582.1,444.15 586.7,444.5 C591.3,444.85 601.42,443.58 605.1,443.9 C608.78,444.22 608.18,445.37 608.8,446.4 C609.42,447.43 609.42,449.07 608.8,450.1 C608.18,451.13 608.78,452.15 605.1,452.6 C601.42,453.05 591.3,452.45 586.7,452.8 C582.1,453.15 580.87,454.15 577.5,454.7 C574.13,455.25 571.55,456.35 566.5,456.1 C561.45,455.85 553.18,453.82 547.2,453.2 C541.22,452.58 533.37,452.53 530.6,452.4" fill="none" stroke="#234d52" stroke-width="1.6"/><g fill="#55aab0" stroke="#234d52" stroke-width="0.6"><circle cx="547" cy="439.9" r="1.6"/><circle cx="551.1" cy="439.88" r="1.6"/><circle cx="555.2" cy="439.8" r="1.6"/><circle cx="559.3" cy="439.78" r="1.6"/><circle cx="563.39" cy="439.94" r="1.6"/><circle cx="567.48" cy="440.31" r="1.6"/><circle cx="571.54" cy="440.82" r="1.6"/><circle cx="575.59" cy="441.45" r="1.6"/><circle cx="579.58" cy="442.37" r="1.6"/><circle cx="583.39" cy="443.88" r="1.6"/><circle cx="587.43" cy="444.52" r="1.6"/><circle cx="591.52" cy="444.48" r="1.6"/><circle cx="595.62" cy="444.25" r="1.6"/><circle cx="599.71" cy="444" r="1.6"/><circle cx="603.81" cy="443.86" r="1.6"/><circle cx="607.78" cy="444.61" r="1.6"/><circle cx="609.26" cy="448.33" r="1.6"/><circle cx="607.61" cy="451.94" r="1.6"/><circle cx="603.62" cy="452.71" r="1.6"/><circle cx="599.52" cy="452.77" r="1.6"/><circle cx="595.42" cy="452.73" r="1.6"/><circle cx="591.32" cy="452.69" r="1.6"/><circle cx="587.22" cy="452.78" r="1.6"/><circle cx="583.16" cy="453.3" r="1.6"/><circle cx="579.2" cy="454.35" r="1.6"/><circle cx="575.18" cy="455.16" r="1.6"/><circle cx="571.15" cy="455.93" r="1.6"/><circle cx="567.06" cy="456.11" r="1.6"/><circle cx="562.98" cy="455.73" r="1.6"/><circle cx="558.93" cy="455.09" r="1.6"/><circle cx="554.9" cy="454.37" r="1.6"/><circle cx="550.85" cy="453.7" r="1.6"/><circle cx="546.79" cy="453.16" r="1.6"/></g><g fill="#70373a" stroke="#4a2426" stroke-width="0.5"><circle cx="530.6" cy="439.6" r="1.6"/><circle cx="534.7" cy="439.68" r="1.6"/><circle cx="538.8" cy="439.77" r="1.6"/><circle cx="542.9" cy="439.84" r="1.6"/><circle cx="542.7" cy="452.85" r="1.6"/><circle cx="538.61" cy="452.65" r="1.6"/><circle cx="534.51" cy="452.52" r="1.6"/></g>
<line x1="625.3" y1="447.7" x2="652.02" y2="458.91" stroke="#c8161d" stroke-width="1.6"/><polygon points="659.4,462 648.63,461.82 652.02,458.91 651.72,454.44" fill="#c8161d"/>
<rect x="782.4" y="467.8" width="39.6" height="25.4" fill="url(#chk)" filter="url(#soft)"/><path d="M782.4,467.8 V493.2 H822" fill="none" stroke="#4a4a4a" stroke-width="1"/><path d="M782.4,467.8 H822 V493.2" fill="none" stroke="#9a9a9a" stroke-width="0.7"/><rect x="782.4" y="504.3" width="39.6" height="27" fill="url(#chk)" filter="url(#soft)"/><path d="M782.4,504.3 V531.3 H822" fill="none" stroke="#4a4a4a" stroke-width="1"/><path d="M782.4,504.3 H822 V531.3" fill="none" stroke="#9a9a9a" stroke-width="0.7"/><rect x="722.7" y="486.8" width="19.5" height="19.3" fill="#e48388"/><path d="M726,490.1 C728.75,490.22 736.68,490.58 742.5,490.8 C748.32,491.02 755.38,491.27 760.9,491.4 C766.42,491.53 772.23,490.98 775.6,491.6 C778.97,492.22 779.57,494.22 781.1,495.1 C782.63,495.98 780.5,496.72 784.8,496.9 C789.1,497.08 802.93,495.85 806.9,496.2 C810.87,496.55 808.6,498.05 808.6,499 C808.6,499.95 810.87,501.33 806.9,501.9 C802.93,502.47 789.1,502.17 784.8,502.4 C780.5,502.63 782.63,502.7 781.1,503.3 C779.57,503.9 778.65,505.53 775.6,506 C772.55,506.47 768.32,506.6 762.8,506.1 C757.28,505.6 748.63,503.62 742.5,503 C736.37,502.38 728.75,502.5 726,502.4" fill="none" stroke="#234d52" stroke-width="1.6"/><g fill="#55aab0" stroke="#234d52" stroke-width="0.6"><circle cx="742.39" cy="490.8" r="1.6"/><circle cx="746.48" cy="490.95" r="1.6"/><circle cx="750.58" cy="491.09" r="1.6"/><circle cx="754.68" cy="491.22" r="1.6"/><circle cx="758.78" cy="491.35" r="1.6"/><circle cx="762.88" cy="491.42" r="1.6"/><circle cx="766.97" cy="491.36" r="1.6"/><circle cx="771.07" cy="491.3" r="1.6"/><circle cx="775.16" cy="491.54" r="1.6"/><circle cx="778.88" cy="493.12" r="1.6"/><circle cx="781.79" cy="495.94" r="1.6"/><circle cx="785.53" cy="496.9" r="1.6"/><circle cx="789.63" cy="496.81" r="1.6"/><circle cx="793.72" cy="496.61" r="1.6"/><circle cx="797.82" cy="496.39" r="1.6"/><circle cx="801.91" cy="496.21" r="1.6"/><circle cx="806.01" cy="496.17" r="1.6"/><circle cx="809.14" cy="497.7" r="1.6"/><circle cx="808.77" cy="501.37" r="1.6"/><circle cx="804.76" cy="502.08" r="1.6"/><circle cx="800.67" cy="502.22" r="1.6"/><circle cx="796.57" cy="502.27" r="1.6"/><circle cx="792.47" cy="502.29" r="1.6"/><circle cx="788.37" cy="502.32" r="1.6"/><circle cx="784.27" cy="502.43" r="1.6"/><circle cx="780.48" cy="503.61" r="1.6"/><circle cx="776.95" cy="505.67" r="1.6"/><circle cx="772.91" cy="506.29" r="1.6"/><circle cx="768.81" cy="506.41" r="1.6"/><circle cx="764.72" cy="506.25" r="1.6"/><circle cx="760.64" cy="505.85" r="1.6"/><circle cx="756.59" cy="505.23" r="1.6"/><circle cx="752.55" cy="504.54" r="1.6"/><circle cx="748.5" cy="503.84" r="1.6"/><circle cx="744.45" cy="503.23" r="1.6"/><circle cx="787.5" cy="498.6" r="1.6"/><circle cx="792" cy="500.2" r="1.6"/><circle cx="796.5" cy="498.6" r="1.6"/><circle cx="801" cy="500.2" r="1.6"/><circle cx="805" cy="498.6" r="1.6"/></g><path d="M785,497 L790,502 L794.5,496.6 L799,502 L803.5,496.4 L807,501.6 M785,502.3 L790,496.8 L794.5,502.2 L799,496.6 L803.5,502" fill="none" stroke="#3d8f95" stroke-width="1.3"/><g fill="#70373a" stroke="#4a2426" stroke-width="0.5"><circle cx="726" cy="490.1" r="1.6"/><circle cx="730.1" cy="490.28" r="1.6"/><circle cx="734.19" cy="490.46" r="1.6"/><circle cx="738.29" cy="490.63" r="1.6"/><circle cx="740.37" cy="502.82" r="1.6"/><circle cx="736.28" cy="502.6" r="1.6"/><circle cx="732.18" cy="502.49" r="1.6"/><circle cx="728.08" cy="502.44" r="1.6"/></g>
<line x1="727.4" y1="521.4" x2="700.05" y2="531.04" stroke="#c8161d" stroke-width="1.6"/><polygon points="692.5,533.7 700.6,526.6 700.05,531.04 703.26,534.15" fill="#c8161d"/>
<g clip-path="url(#cclip)">
<polyline points="107.5,856.1 236,856.1 245,855.8 254.7,853.5 264.3,840.6 274,794.5 282.6,730.1 292.2,717.6 301.9,767.6 311.5,824.5 321.2,849.2 330.9,854.1 341.6,855.8 360,856.1 838.5,856.1" fill="none" stroke="#e8a31c" stroke-width="1.7" stroke-linejoin="round"/>
<polyline points="107.5,855.9 236,855.9 245,855.7 255.8,854.1 264.3,847.7 274,824.1 282.6,722.6 292.2,689.3 301.9,798.8 311.5,840.6 321.2,851.3 330.9,854.5 341.6,855.6 360,855.9 386,856 395,854.6 404.5,853 414,854.8 423,856 441.7,856 451,855.1 458.3,854.3 464,855.2 469,856 838.5,855.9" fill="none" stroke="#d2191f" stroke-width="1.7" stroke-linejoin="round"/>
<path d="M107.5,855.15 H838.5" stroke="#e8a31c" stroke-width="0.8"/>
</g>
<rect x="107.5" y="664" width="731" height="192" fill="none" stroke="#2b2b2b" stroke-width="1.25"/>
<path d="M198.88,856v-3.2 M198.88,664v3.2 M290.25,856v-6 M290.25,664v6 M381.62,856v-3.2 M381.62,664v3.2 M473,856v-6 M473,664v6 M564.37,856v-3.2 M564.37,664v3.2 M655.75,856v-6 M655.75,664v6 M747.12,856v-3.2 M747.12,664v3.2 " stroke="#2b2b2b" stroke-width="1.1" fill="none"/>
<text x="107.5" y="881.3" font-size="24" text-anchor="middle">0.12</text>
<text x="290.25" y="881.3" font-size="24" text-anchor="middle">0.14</text>
<text x="473" y="881.3" font-size="24" text-anchor="middle">0.16</text>
<text x="655.75" y="881.3" font-size="24" text-anchor="middle">0.18</text>
<text x="838.5" y="881.3" font-size="24" text-anchor="middle">0.20</text>
<text x="470.2" y="915.9" font-size="27.5" text-anchor="middle">r (nm)</text>
<text transform="translate(79.8,769.2) rotate(-90)" font-size="27" text-anchor="middle">g(r)</text>
<text x="13.2" y="668.9" font-size="31.5" text-anchor="start">(c)</text>
<line x1="122.8" y1="687.2" x2="159" y2="687.2" stroke="#e8a31c" stroke-width="1.7"/>
<line x1="122.8" y1="712.6" x2="159" y2="712.6" stroke="#d2191f" stroke-width="1.7"/>
<text x="166.6" y="693" font-size="19" text-anchor="start">Graphene</text>
<text x="166.6" y="718.4" font-size="19" text-anchor="start">G-ori</text>
<polyline points="438.9,786.5 517,786.5 523.4,785 529.2,757.4 532.6,686.6" fill="none" stroke="#e8a31c" stroke-width="1.7" stroke-linejoin="round"/>
<polyline points="569.6,686.6 570.4,702.2 576.3,771 582.1,785 585.5,786.4 779.8,786.5" fill="none" stroke="#e8a31c" stroke-width="1.7" stroke-linejoin="round"/>
<polyline points="438.9,786.3 512,786.3 518.9,786.1 524.6,783.8 530.3,757.4 534.9,686.6" fill="none" stroke="#d2191f" stroke-width="1.7" stroke-linejoin="round"/>
<polyline points="569.9,686.6 570.6,702.2 576.3,762 582.1,780.3 587.8,785.6 594,786.2 603.9,786.1 611.6,782.3 616.7,768.4 623,750.7 629.3,762.1 635.1,777.2 640.7,783.1 646.3,781.5 652.1,776 657.9,771.4 663.5,778.5 669.8,784.1 676.1,786.1 779.8,786.3" fill="none" stroke="#d2191f" stroke-width="1.7" stroke-linejoin="round"/>
<rect x="438.9" y="686.6" width="340.9" height="100.1" fill="none" stroke="#2b2b2b" stroke-width="1.2"/>
<path d="M495.72,786.7v-3 M495.72,686.6v3 M552.53,786.7v-4.5 M552.53,686.6v4.5 M609.35,786.7v-3 M609.35,686.6v3 M666.17,786.7v-4.5 M666.17,686.6v4.5 M722.98,786.7v-3 M722.98,686.6v3 " stroke="#2b2b2b" stroke-width="1" fill="none"/>
<text x="438.9" y="805.6" font-size="18.5" text-anchor="middle">0.12</text>
<text x="552.53" y="805.6" font-size="18.5" text-anchor="middle">0.14</text>
<text x="666.17" y="805.6" font-size="18.5" text-anchor="middle">0.16</text>
<text x="779.8" y="805.6" font-size="18.5" text-anchor="middle">0.18</text>
<text x="583.6" y="722.4" font-size="19" text-anchor="start"><tspan font-style="italic">sp</tspan><tspan font-size="11" dy="-6.5">2</tspan><tspan dy="6.5">-</tspan><tspan font-style="italic">sp</tspan><tspan font-size="11" dy="-6.5">3</tspan><tspan dy="6.5"> bond</tspan></text>
<text x="678.4" y="755.2" font-size="19" text-anchor="start"><tspan font-style="italic">sp</tspan><tspan font-size="11" dy="-6.5">3</tspan><tspan dy="6.5">-</tspan><tspan font-style="italic">sp</tspan><tspan font-size="11" dy="-6.5">3</tspan><tspan dy="6.5"> bond</tspan></text>
<line x1="599" y1="739.8" x2="611.48" y2="754.26" stroke="#111" stroke-width="1.2"/><polygon points="615.4,758.8 608.38,754.95 611.48,754.26 612.62,751.29" fill="#111"/>
<line x1="693.8" y1="763.3" x2="674.11" y2="770.77" stroke="#111" stroke-width="1.2"/><polygon points="668.5,772.9 674.52,767.62 674.11,770.77 676.51,772.86" fill="#111"/>
</svg>
</body></html>
